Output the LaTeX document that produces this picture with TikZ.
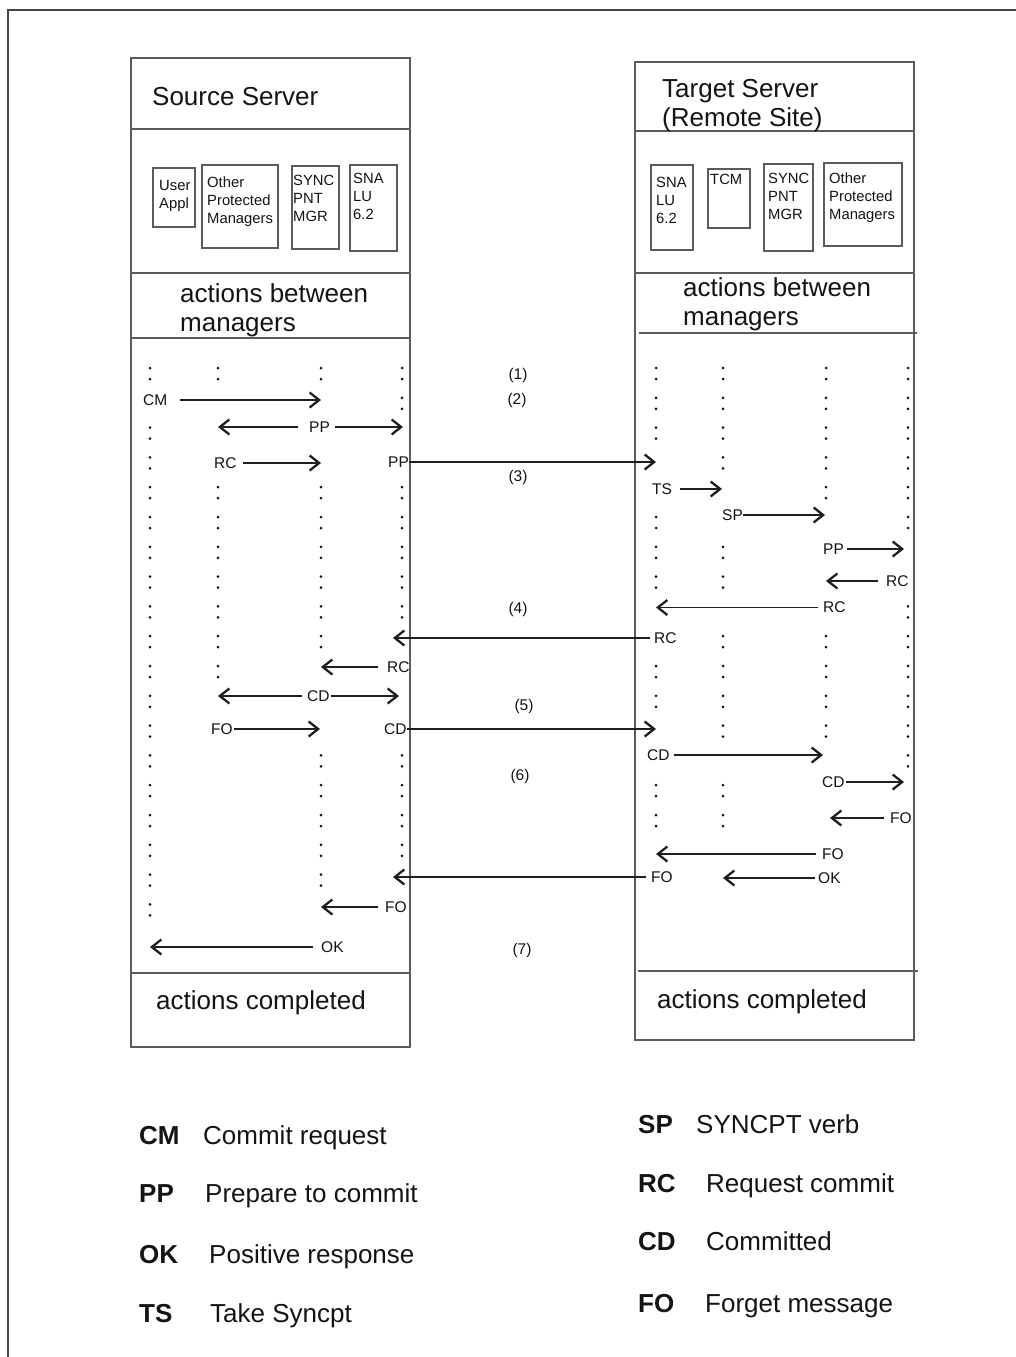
\documentclass[tikz,border=0pt]{standalone}
\usepackage{fontspec}
\setmainfont{Liberation Sans}
\usetikzlibrary{arrows.meta}
\definecolor{boxc}{gray}{0.36}
\definecolor{inkc}{gray}{0.08}
\definecolor{arrc}{gray}{0.12}
\newcommand\mydotcol[2]{\foreach \k in {#2}{\fill[inkc] (#1,{373.5+29.8*\k-5.5}) circle (1.5); \fill[inkc] (#1,{373.5+29.8*\k+5.5}) circle (1.5);}}
\begin{document}
\begin{tikzpicture}[x=1pt,y=-1pt,
  frame/.style={draw=boxc, line width=1.3pt},
  sbox/.style={draw=boxc, line width=1.1pt},
  big/.style={font=\fontsize{26}{29}\selectfont, text=inkc, inner sep=0pt, align=left},
  boxtxt/.style={font=\fontsize{14.8}{18}\selectfont, text=inkc, inner sep=0pt, align=left, anchor=north west},
  lbl/.style={font=\fontsize{15.5}{18}\selectfont, text=inkc, inner sep=0pt, anchor=west},
  num/.style={font=\fontsize{15.5}{18}\selectfont, text=inkc, inner sep=0pt},
  arr/.style={draw=arrc, line width=1.1pt, -{Straight Barb[length=9.5pt,width=15pt,line width=2.3pt]}},
  lgk/.style={font=\fontsize{26}{29}\selectfont\bfseries, text=inkc, inner sep=0pt, anchor=base west},
  lgt/.style={font=\fontsize{26}{29}\selectfont, text=inkc, inner sep=0pt, anchor=base west}
]
\useasboundingbox (0,0) rectangle (1016,1357);
\fill[white] (0,0) rectangle (1016,1357);
% outer frame
\draw[draw=gray!55!black, line width=1.3pt] (8,1357) -- (8,10) -- (1016,10);

% ---------------- Source server box
\draw[frame] (131,58) rectangle (410,1047);
\draw[frame] (131,129) -- (410,129);
\draw[frame] (131,273) -- (410,273);
\draw[frame] (131,338) -- (410,338);
\draw[frame] (131,973) -- (410,973);
\node[big, anchor=north west] (srctitle) at (152,87) {Source Server};
\node[big, anchor=north west] (srcact) at (180,283) {actions between\\managers};
\node[big, anchor=base west] (srcdone) at (156,1009) {actions completed};

\draw[sbox] (153,168) rectangle (195,227);
\draw[sbox] (202,165) rectangle (278,248);
\draw[sbox] (292,166) rectangle (339,249);
\draw[sbox] (350,165) rectangle (397,251);
\node[boxtxt] (sua) at (159,180) {User\\Appl};
\node[boxtxt] (sop) at (207,177) {Other\\Protected\\Managers};
\node[boxtxt] (ssy) at (293,175) {SYNC\\PNT\\MGR};
\node[boxtxt] (ssn) at (353,173) {SNA\\LU\\6.2};

% ---------------- Target server box
\draw[frame] (635,62) rectangle (914,1040);
\draw[frame] (635,131) -- (914,131);
\draw[frame] (635,273) -- (914,273);
\draw[frame] (639,333) -- (917,333);
\draw[frame] (638,971) -- (918,971);
\node[big, anchor=north west] (tgttitle) at (662,79.5) {Target Server\\(Remote Site)};
\node[big, anchor=north west] (tgtact) at (683,277) {actions between\\managers};
\node[big, anchor=base west] (tgtdone) at (657,1008) {actions completed};

\draw[sbox] (651,165) rectangle (693,250);
\draw[sbox] (708,169) rectangle (750,228);
\draw[sbox] (764,164) rectangle (813,251);
\draw[sbox] (824,163) rectangle (902,246);
\node[boxtxt] (tsn) at (656,177) {SNA\\LU\\6.2};
\node[boxtxt] (ttc) at (710,174) {TCM};
\node[boxtxt] (tsy) at (768,173) {SYNC\\PNT\\MGR};
\node[boxtxt] (top) at (829,173) {Other\\Protected\\Managers};

% ---------------- dotted lifelines
\mydotcol{150}{0,2,3,4,5,6,7,8,9,10,11,12,13,14,15,16,17,18}
\mydotcol{218}{0,4,5,6,7,8,9,10}
\mydotcol{321}{0,4,5,6,7,8,9,13,14,15,16,17}
\mydotcol{402}{0,1,4,5,6,7,8,13,14,15,16}
\mydotcol{656}{0,1,2,5,6,7,10,11,14,15}
\mydotcol{723}{0,1,2,3,6,7,9,10,11,12,14,15}
\mydotcol{826}{0,1,2,3,4,9,10,11,12}
\mydotcol{908}{0,1,2,3,4,5,8,9,10,11,12,13}

% ---------------- step numbers
\node[num] (n1) at (518,375) {(1)};
\node[num] (n2) at (517,400) {(2)};
\node[num] (n3) at (518,477) {(3)};
\node[num] (n4) at (518,609) {(4)};
\node[num] (n5) at (524,706) {(5)};
\node[num] (n6) at (520,776) {(6)};
\node[num] (n7) at (522,950) {(7)};

% ---------------- source side messages
\node[lbl] (cm) at (143,400) {CM};
\coordinate (cmh) at (321,400);
\draw[arr, shorten <=12pt] (cm) -- (cmh);

\node[lbl] (ppa) at (309,427) {PP};
\coordinate (ppal) at (218,427);
\coordinate (ppar) at (403,427);
\draw[arr, shorten <=11pt] (ppa) -- (ppal);
\draw[arr, shorten <=5pt] (ppa) -- (ppar);

\node[lbl] (rca) at (214,463) {RC};
\coordinate (rcah) at (321,463);
\draw[arr, shorten <=6pt] (rca) -- (rcah);

\node[lbl] (ppb) at (388,462) {PP};
\coordinate (ppbh) at (656,462);
\draw[arr] (ppb) -- (ppbh);

\node[lbl] (rcd) at (654,638) {RC};
\coordinate (rcdh) at (393,638);
\draw[arr, shorten <=4pt] (rcd) -- (rcdh);

\node[lbl] (rce) at (387,667) {RC};
\coordinate (rceh) at (321,667);
\draw[arr, shorten <=9pt] (rce) -- (rceh);

\node[lbl] (cda) at (307,696) {CD};
\coordinate (cdal) at (218,696);
\coordinate (cdar) at (399,696);
\draw[arr, shorten <=5pt] (cda) -- (cdal);
\draw[arr, shorten <=1pt] (cda) -- (cdar);

\node[lbl] (foa) at (211,729) {FO};
\coordinate (foah) at (320,729);
\draw[arr, shorten <=1.5pt] (foa) -- (foah);

\node[lbl] (cdb) at (384,729) {CD};
\coordinate (cdbh) at (656,729);
\draw[arr] (cdb) -- (cdbh);

\node[lbl] (fod) at (651,877) {FO};
\coordinate (fodh) at (393,877);
\draw[arr, shorten <=5pt] (fod) -- (fodh);

\node[lbl] (foe) at (385,907) {FO};
\coordinate (foeh) at (321,907);
\draw[arr, shorten <=7pt] (foe) -- (foeh);

\node[lbl] (okb) at (321,947) {OK};
\coordinate (okbh) at (150,947);
\draw[arr, shorten <=8pt] (okb) -- (okbh);

% ---------------- target side messages
\node[lbl] (ts) at (652,489) {TS};
\coordinate (tsh) at (722,489);
\draw[arr, shorten <=8pt] (ts) -- (tsh);

\node[lbl] (sp) at (722,515) {SP};
\coordinate (sph) at (825,515);
\draw[arr] (sp) -- (sph);

\node[lbl] (ppc) at (823,549) {PP};
\coordinate (ppch) at (904,549);
\draw[arr, shorten <=2.5pt] (ppc) -- (ppch);

\node[lbl] (rcb) at (886,581) {RC};
\coordinate (rcbh) at (826,581);
\draw[arr, shorten <=8pt] (rcb) -- (rcbh);

\node[lbl] (rcc) at (823,607.5) {RC};
\coordinate (rcch) at (656,607.5);
\draw[arr, shorten <=5pt] (rcc) -- (rcch);

\node[lbl] (cdc) at (647,755) {CD};
\coordinate (cdch) at (823,755);
\draw[arr, shorten <=4pt] (cdc) -- (cdch);

\node[lbl] (cdd) at (822,782) {CD};
\coordinate (cddh) at (904,782);
\draw[arr, shorten <=1pt] (cdd) -- (cddh);

\node[lbl] (fob) at (890,818) {FO};
\coordinate (fobh) at (830,818);
\draw[arr, shorten <=6.5pt] (fob) -- (fobh);

\node[lbl] (foc) at (822,854) {FO};
\coordinate (foch) at (656,854);
\draw[arr, shorten <=6pt] (foc) -- (foch);

\node[lbl] (oka) at (818,878) {OK};
\coordinate (okah) at (723,878);
\draw[arr, shorten <=3.5pt] (oka) -- (okah);

% ---------------- legend
\node[lgk] (kcm) at (139,1144) {CM};
\node[lgt] (tcm) at (203,1144) {Commit request};
\node[lgk] (kpp) at (139,1202) {PP};
\node[lgt] (tpp) at (205,1202) {Prepare to commit};
\node[lgk] (kok) at (139,1263) {OK};
\node[lgt] (tok) at (209,1263) {Positive response};
\node[lgk] (kts) at (139,1322) {TS};
\node[lgt] (tts) at (210,1322) {Take Syncpt};

\node[lgk] (ksp) at (638,1133) {SP};
\node[lgt] (tsp) at (696,1133) {SYNCPT verb};
\node[lgk] (krc) at (638,1192) {RC};
\node[lgt] (trc) at (706,1192) {Request commit};
\node[lgk] (kcd) at (638,1250) {CD};
\node[lgt] (tcd) at (706,1250) {Committed};
\node[lgk] (kfo) at (638,1312) {FO};
\node[lgt] (tfo) at (705,1312) {Forget message};
\end{tikzpicture}
\end{document}
